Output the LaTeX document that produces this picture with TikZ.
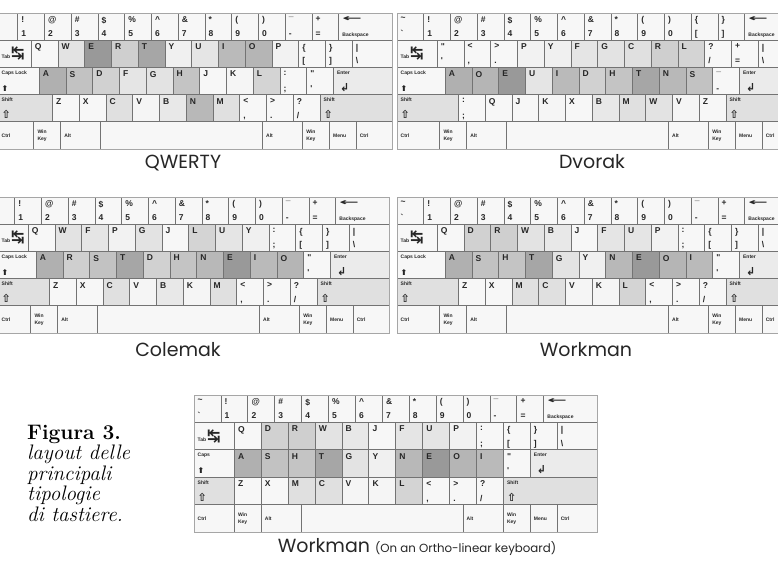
\documentclass[tikz,border=0pt]{standalone}
\usepackage{fontspec}
\newfontfamily\keyf{Liberation Sans}
\newfontfamily\symf{DejaVu Sans}
\newfontfamily\titf{Poppins}
\newcommand\mk{\keyf\bfseries\fontsize{5}{7}\selectfont}
\newcommand\tabl{{\mk Tab}\,{\symf\fontsize{16}{16}\selectfont ↹}}
\newcommand\capsarrow{{\symf\fontsize{8}{8}\selectfont ⬆}}
\newcommand\shiftarrow{{\symf\fontsize{11}{11}\selectfont ⇧}}
\newcommand\entarrow{\hspace{3pt}{\symf\bfseries\fontsize{11}{11}\selectfont ↲}}
\newcommand\bsarrow{{\symf\bfseries\fontsize{9}{9}\selectfont\scalebox{2.6}[1]{←}}}
\newcommand\winkey{Win\\Key}
\newcommand\ifnonempty[2]{\if\relax\detokenize\expandafter{#1}\relax\else#2\fi}
\newcommand\defshade[2]{\expandafter\def\csname shd@#1\endcsname{#2}}
\defshade{E}{40}\defshade{T}{35}\defshade{A}{31}\defshade{O}{29}\defshade{I}{27}
\defshade{N}{28}\defshade{S}{24}\defshade{H}{23}\defshade{R}{19}\defshade{D}{18}
\defshade{L}{17}\defshade{C}{12}\defshade{U}{10}\defshade{M}{12}\defshade{W}{11}
\defshade{F}{10}\defshade{G}{11}\defshade{Y}{6}\defshade{B}{9}\defshade{P}{5}
\defshade{V}{4}\defshade{K}{4}\defshade{J}{3}\defshade{X}{3}\defshade{Q}{3}\defshade{Z}{3}
\defshade{w}{3}\defshade{s}{12}\defshade{e}{8}
\def\ku{26.75}
\def\kh{27.2}
\def\firstoff{3.5}
\tikzset{
  kkey/.style={draw=black!55, line width=0.75pt, rectangle, inner sep=0pt, outer sep=0pt, anchor=north west, minimum height=\kh pt},
  ktop/.style={anchor=north west, inner sep=0pt, font=\keyf\bfseries\fontsize{8.5}{9}\selectfont, text=black!85},
  kbot/.style={anchor=base west, inner sep=0pt, font=\keyf\bfseries\fontsize{8.5}{9}\selectfont, text=black!85},
  kmid/.style={anchor=west, inner sep=0pt, align=left, font=\mk, text=black!85},
  titl/.style={anchor=base, inner sep=0pt, font=\titf\fontsize{19}{19}\selectfont, text=black!85},
  capt/.style={anchor=base west, inner sep=0pt, font=\fontsize{21}{21}\selectfont},
  kframe/.style={draw=black!35, line width=0.6pt}
}
\newcommand\krow[3]{%
  \gdef\kx{0}%
  \foreach \w/\t/\m/\b/\s [count=\c] in #3 {%
    \pgfmathsetmacro\kw{\w*\ku}%
    \pgfmathsetmacro\kxx{\kx*\ku}%
    \ifnum\c=1 \let\lx\firstoff\else\def\lx{3.5}\fi
    \node[kkey, minimum width=\kw pt, fill=black!\csname shd@\s\endcsname] (#1-#2-\c) at (\kxx, #2*\kh) {};
    \ifnonempty{\t}{\node[ktop] (#1-#2-\c-t) at ([shift={(\lx,3.5)}]#1-#2-\c.north west) {\t};}%
    \ifnonempty{\m}{\node[kmid] (#1-#2-\c-m) at ([shift={(\lx,0)}]#1-#2-\c.west) {\m};}%
    \ifnonempty{\b}{\node[kbot] (#1-#2-\c-b) at ([shift={(\lx,-3.5)}]#1-#2-\c.south west) {\b};}%
    \pgfmathsetmacro\nx{\kx+\w}\xdef\kx{\nx}%
  }%
}
\def\rowzeroA{1/\textasciitilde//\textasciigrave/w, 1/!//1/w, 1/@//2/w, 1/\#//3/w, 1/\$//4/w, 1/\%//5/w, 1/\textasciicircum//6/w, 1/\&//7/w, 1/*//8/w, 1/(//9/w, 1/)//0/w, 1/\_//-/w, 1/+//=/w, 2/\bsarrow//{\mk Backspace}/w}
\def\rowzeroB{1////w, 1/!//1/w, 1/@//2/w, 1/\#//3/w, 1/\$//4/w, 1/\%//5/w, 1/\textasciicircum//6/w, 1/\&//7/w, 1/*//8/w, 1/(//9/w, 1/)//0/w, 1/\_//-/w, 1/+//=/w, 2/\bsarrow//{\mk Backspace}/w}
\def\rowzeroD{1/\textasciitilde//\textasciigrave/w, 1/!//1/w, 1/@//2/w, 1/\#//3/w, 1/\$//4/w, 1/\%//5/w, 1/\textasciicircum//6/w, 1/\&//7/w, 1/*//8/w, 1/(//9/w, 1/)//0/w, 1/\{//[/w, 1/\}//]/w, 2/\bsarrow//{\mk Backspace}/w}
\def\rowfour{1.6//{\mk Ctrl}//w, 1//\winkey//w, 1.5//{\mk Alt}//w, 6.05////w, 1.5//{\mk Alt}//w, 1//\winkey//w, 1//{\mk Menu}//w, 1.35//{\mk Ctrl}//w}
\def\rowfourO{1.5//{\mk Ctrl}//w, 1//\winkey//w, 1.5//{\mk Alt}//w, 6////w, 1.5//{\mk Alt}//w, 1//\winkey//w, 1//{\mk Menu}//w, 1.5//{\mk Ctrl}//w}
\begin{document}
\begin{tikzpicture}[x=1pt,y=-1pt]
\useasboundingbox (0,0) rectangle (778,561);
\clip (0,0) rectangle (778,561);
\fill[white] (0,0) rectangle (778,561);
% QWERTY
\begin{scope}[shift={(-9,13)}]
\def\firstoff{10.5}
\krow{qw}{0}{\rowzeroB}
\krow{qw}{1}{{1.5//\tabl//w, 1/Q///Q, 1/W///W, 1/E///E, 1/R///R, 1/T///T, 1/Y///Y, 1/U///U, 1/I///I, 1/O///O, 1/P///P, 1/\{//[/w, 1/\}//]/w, 1.5/|//\textbackslash/w}}
\krow{qw}{2}{{1.8/{\mk Caps Lock}//\capsarrow/w, 1/A///A, 1/S///S, 1/D///D, 1/F///F, 1/G///G, 1/H///H, 1/J///J, 1/K///K, 1/L///L, 1/://;/w, 1/\textquotedbl//\textquotesingle/w, 2.2/{\mk Enter}//\entarrow/e}}
\krow{qw}{3}{{2.3/{\mk Shift}//\shiftarrow/s, 1/Z///Z, 1/X///X, 1/C///C, 1/V///V, 1/B///B, 1/N///N, 1/M///M, 1/<//{,}/w, 1/>//./w, 1/?//{/}/w, 2.7/{\mk Shift}//\shiftarrow/s}}
\krow{qw}{4}{\rowfour}
\draw[kframe] (qw-0-1.north west) rectangle (qw-4-8.south east);
\end{scope}
% Dvorak
\begin{scope}[shift={(397,13)}]
\krow{dv}{0}{\rowzeroD}
\krow{dv}{1}{{1.5//\tabl//w, 1/\textquotedbl//\textquotesingle/w, 1/<//{,}/w, 1/>//./w, 1/P///P, 1/Y///Y, 1/F///F, 1/G///G, 1/C///C, 1/R///R, 1/L///L, 1/?//{/}/w, 1/+//=/w, 1.5/|//\textbackslash/w}}
\krow{dv}{2}{{1.8/{\mk Caps Lock}//\capsarrow/w, 1/A///A, 1/O///O, 1/E///E, 1/U///U, 1/I///I, 1/D///D, 1/H///H, 1/T///T, 1/N///N, 1/S///S, 1/\_//-/w, 2.2/{\mk Enter}//\entarrow/e}}
\krow{dv}{3}{{2.3/{\mk Shift}//\shiftarrow/s, 1/://;/w, 1/Q///Q, 1/J///J, 1/K///K, 1/X///X, 1/B///B, 1/M///M, 1/W///W, 1/V///V, 1/Z///Z, 2.7/{\mk Shift}//\shiftarrow/s}}
\krow{dv}{4}{\rowfour}
\draw[kframe] (dv-0-1.north west) rectangle (dv-4-8.south east);
\end{scope}
% Colemak
\begin{scope}[shift={(-12,197)}]
\def\firstoff{13.5}
\krow{cm}{0}{\rowzeroB}
\krow{cm}{1}{{1.5//\tabl//w, 1/Q///Q, 1/W///W, 1/F///F, 1/P///P, 1/G///G, 1/J///J, 1/L///L, 1/U///U, 1/Y///Y, 1/://;/w, 1/\{//[/w, 1/\}//]/w, 1.5/|//\textbackslash/w}}
\krow{cm}{2}{{1.8/{\mk Caps Lock}//\capsarrow/w, 1/A///A, 1/R///R, 1/S///S, 1/T///T, 1/D///D, 1/H///H, 1/N///N, 1/E///E, 1/I///I, 1/O///O, 1/\textquotedbl//\textquotesingle/w, 2.2/{\mk Enter}//\entarrow/e}}
\krow{cm}{3}{{2.3/{\mk Shift}//\shiftarrow/s, 1/Z///Z, 1/X///X, 1/C///C, 1/V///V, 1/B///B, 1/K///K, 1/M///M, 1/<//{,}/w, 1/>//./w, 1/?//{/}/w, 2.7/{\mk Shift}//\shiftarrow/s}}
\krow{cm}{4}{\rowfour}
\draw[kframe] (cm-0-1.north west) rectangle (cm-4-8.south east);
\end{scope}
% Workman
\begin{scope}[shift={(397,197)}]
\krow{wm}{0}{\rowzeroA}
\krow{wm}{1}{{1.5//\tabl//w, 1/Q///Q, 1/D///D, 1/R///R, 1/W///W, 1/B///B, 1/J///J, 1/F///F, 1/U///U, 1/P///P, 1/://;/w, 1/\{//[/w, 1/\}//]/w, 1.5/|//\textbackslash/w}}
\krow{wm}{2}{{1.8/{\mk Caps Lock}//\capsarrow/w, 1/A///A, 1/S///S, 1/H///H, 1/T///T, 1/G///G, 1/Y///Y, 1/N///N, 1/E///E, 1/O///O, 1/I///I, 1/\textquotedbl//\textquotesingle/w, 2.2/{\mk Enter}//\entarrow/e}}
\krow{wm}{3}{{2.3/{\mk Shift}//\shiftarrow/s, 1/Z///Z, 1/X///X, 1/M///M, 1/C///C, 1/V///V, 1/K///K, 1/L///L, 1/<//{,}/w, 1/>//./w, 1/?//{/}/w, 2.7/{\mk Shift}//\shiftarrow/s}}
\krow{wm}{4}{\rowfour}
\draw[kframe] (wm-0-1.north west) rectangle (wm-4-8.south east);
\end{scope}
% Workman ortho
\def\ku{26.9}\def\kh{27.4}
\begin{scope}[shift={(194,395)}]
\krow{wo}{0}{\rowzeroA}
\krow{wo}{1}{{1.5//\tabl//w, 1/Q///Q, 1/D///D, 1/R///R, 1/W///W, 1/B///B, 1/J///J, 1/F///F, 1/U///U, 1/P///P, 1/://;/w, 1/\{//[/w, 1/\}//]/w, 1.5/|//\textbackslash/w}}
\krow{wo}{2}{{1.5/{\mk Caps}//\capsarrow/w, 1/A///A, 1/S///S, 1/H///H, 1/T///T, 1/G///G, 1/Y///Y, 1/N///N, 1/E///E, 1/O///O, 1/I///I, 1/\textquotedbl//\textquotesingle/w, 2.5/{\mk Enter}//\entarrow/e}}
\krow{wo}{3}{{1.5/{\mk Shift}//\shiftarrow/s, 1/Z///Z, 1/X///X, 1/M///M, 1/C///C, 1/V///V, 1/K///K, 1/L///L, 1/<//{,}/w, 1/>//./w, 1/?//{/}/w, 3.5/{\mk Shift}//\shiftarrow/s}}
\krow{wo}{4}{\rowfourO}
\draw[kframe] (wo-0-1.north west) rectangle (wo-4-8.south east);
\end{scope}
% titles
\node[titl] (tq) at (183,169) {QWERTY};
\node[titl] (td) at (592,169) {Dvorak};
\node[titl] (tc) at (178,356) {Colemak};
\node[titl] (tw) at (586,356) {Workman};
\node[titl] (to) at (417,552) {Workman {\fontsize{11.8}{13}\selectfont (On an Ortho-linear keyboard)}};
% caption
\node[capt] (c1) at (27,439) {\textbf{Figura 3.}};
\node[capt] (c2) at (27,459.5) {\textit{layout delle}};
\node[capt] (c3) at (27,480) {\textit{principali}};
\node[capt] (c4) at (27,500.5) {\textit{tipologie}};
\node[capt] (c5) at (27,521) {\textit{di tastiere.}};
\end{tikzpicture}
\end{document}
